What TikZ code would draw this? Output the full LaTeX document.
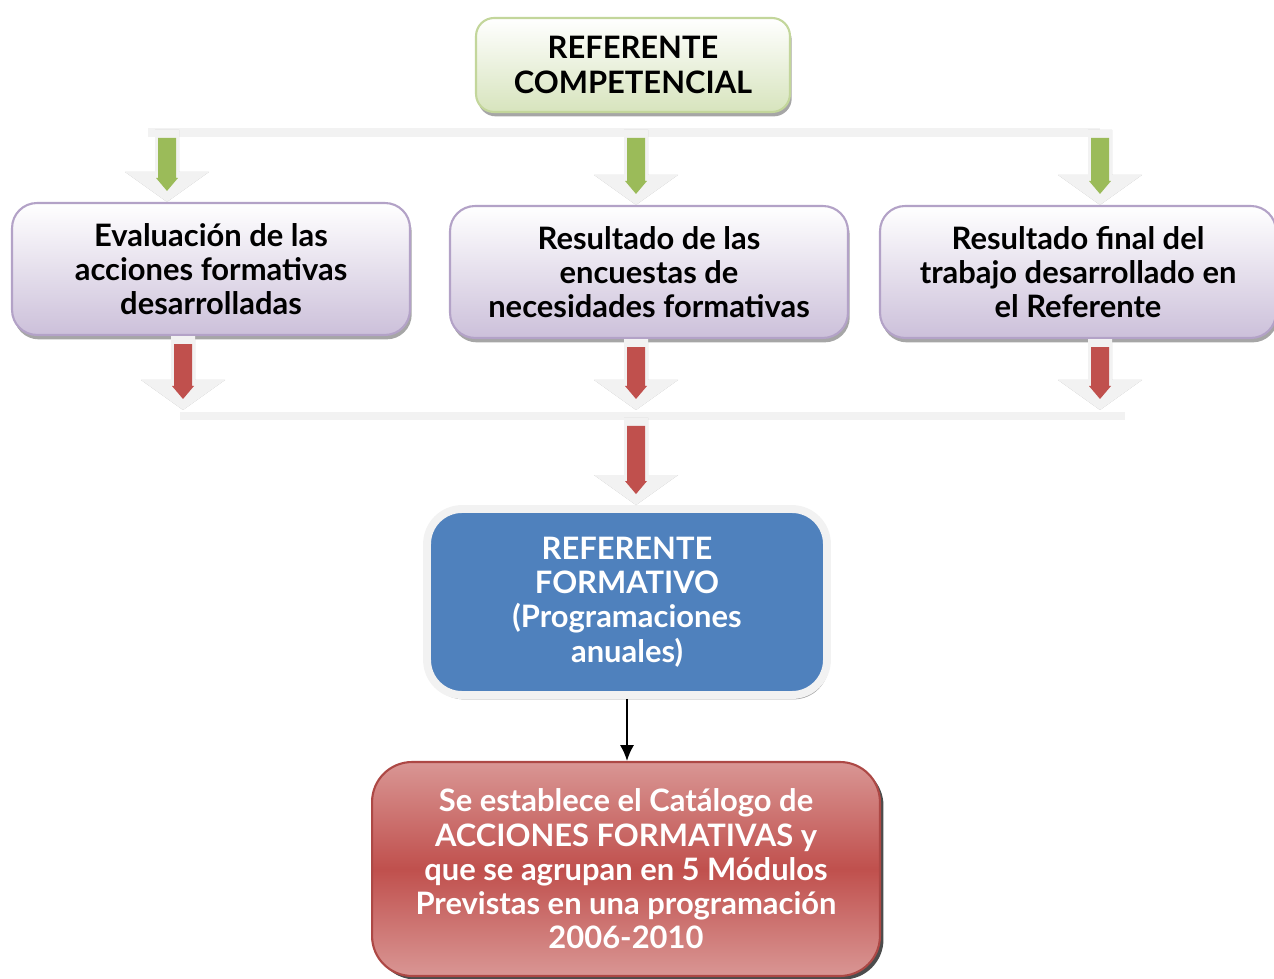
\documentclass[tikz,border=0pt]{standalone}
\usepackage{fontspec}
\setmainfont{Lato}
\usetikzlibrary{calc,shadows,arrows.meta}

\definecolor{bargrey}{HTML}{F2F2F2}
\definecolor{greenline}{HTML}{C3D69B}
\definecolor{greenfill}{HTML}{D7E4BD}
\definecolor{greenarrow}{HTML}{9BBB59}
\definecolor{lilaline}{HTML}{B3A2C7}
\definecolor{lilafill}{HTML}{CCC0DA}
\definecolor{refblue}{HTML}{4F81BD}
\definecolor{redarrow}{HTML}{C0504D}
\definecolor{redlight}{HTML}{D99694}

% block arrow: #1 start, #2 tip (same x), #3 inner colour
\newcommand{\bigarrow}[3]{%
    \fill[gray!60, shift={(4,2)}] ($(#1)+(-12,0)$) -- ($(#1)+(12,0)$) -- ($(#2)+(12,-30)$) -- ($(#2)+(42,-30)$)
        -- (#2) -- ($(#2)+(-42,-30)$) -- ($(#2)+(-12,-30)$) -- cycle;
    \fill[bargrey] ($(#1)+(-12,0)$) -- ($(#1)+(12,0)$) -- ($(#2)+(12,-30)$) -- ($(#2)+(42,-30)$)
        -- (#2) -- ($(#2)+(-42,-30)$) -- ($(#2)+(-12,-30)$) -- cycle;
    \fill[#3] ($(#1)+(-9,8)$) -- ($(#1)+(9,8)$) -- ($(#2)+(9,-24)$) -- ($(#2)+(11,-24)$)
        -- ($(#2)+(0,-11)$) -- ($(#2)+(-11,-24)$) -- ($(#2)+(-9,-24)$) -- cycle;
}

\begin{document}
\begin{tikzpicture}[x=0.02cm, y=-0.02cm,
        txt/.style={font=\bfseries\fontsize{17.6}{19.5}\selectfont, align=center},
        shade/.style={drop shadow={shadow xshift=1pt, shadow yshift=-2.5pt, fill=gray!70, opacity=1}},
        compbox/.style={txt, shade, draw=greenline, line width=1.2pt, rounded corners=0.36cm,
            top color=white, bottom color=greenfill, minimum width=6.28cm, minimum height=1.88cm},
        lilabox/.style={txt, shade, draw=lilaline, line width=1.2pt, rounded corners=0.5cm,
            top color=white, bottom color=lilafill, minimum width=7.96cm, minimum height=2.64cm},
        formbox/.style={txt, shade, text=white, draw=bargrey, line width=4.5pt, rounded corners=0.7cm,
            fill=refblue, minimum width=8cm, minimum height=3.72cm},
        catbox/.style={txt, drop shadow={shadow xshift=2pt, shadow yshift=-2pt, fill=black!70, opacity=1},
            text=white, draw=redarrow!90!black, line width=1.2pt, rounded corners=0.8cm,
            top color=redlight, bottom color=redlight, middle color=redarrow,
            minimum width=10.16cm, minimum height=4.28cm}]
    \useasboundingbox (0,0) rectangle (1274,979);
    \clip (0,0) rectangle (1274,979);

    \node[compbox] (comp) at (633,65) {REFERENTE\\COMPETENCIAL};

    \node[lilabox] (eval) at (211,269) {Evaluación de las\\acciones formativas\\desarrolladas};
    \node[lilabox] (encu) at (649,272) {Resultado de las\\encuestas de\\necesidades formativas};
    \node[lilabox, minimum width=7.92cm] (final) at (1078,272) {Resultado final del\\trabajo desarrollado en\\el Referente};

    \node[formbox] (form) at (627,602) {REFERENTE\\FORMATIVO\\(Programaciones\\anuales)};
    \node[catbox] (cat) at (626,869) {Se establece el Catálogo de\\ACCIONES FORMATIVAS y\\que se agrupan en 5 Módulos\\Previstas en una programación\\2006-2010};

    % grey bars
    \fill[bargrey] (148,128) rectangle (1100,137);
    \fill[bargrey] (180,412) rectangle (1125,420);

    \coordinate (g1) at (167,130);
    \coordinate (g2) at (636,130);
    \coordinate (g3) at (1100,130);
    \coordinate (r1) at (183,410);
    \coordinate (r2) at (636,410);
    \coordinate (r3) at (1100,410);
    \coordinate (r4) at (636,418);

    \bigarrow{g1}{g1 |- eval.north}{greenarrow}
    \bigarrow{g2}{g2 |- encu.north}{greenarrow}
    \bigarrow{g3}{g3 |- final.north}{greenarrow}

    \bigarrow{r1 |- eval.south}{r1}{redarrow}
    \bigarrow{r2 |- encu.south}{r2}{redarrow}
    \bigarrow{r3 |- final.south}{r3}{redarrow}
    \bigarrow{r4}{r4 |- form.north}{redarrow}

    \draw[-{Latex[length=9pt,width=8pt]}, line width=1.1pt] (form.south) -- (form.south |- cat.north);
\end{tikzpicture}
\end{document}
